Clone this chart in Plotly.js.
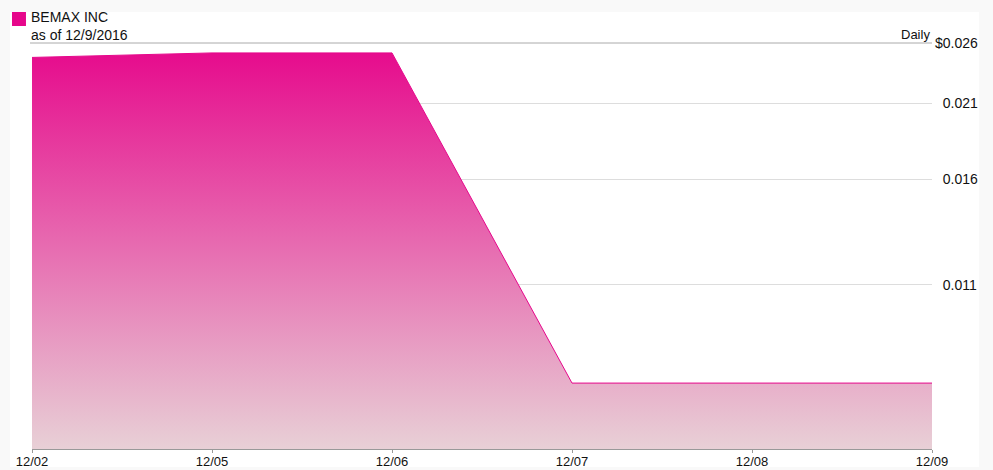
<!DOCTYPE html>
<html>
<head>
<meta charset="utf-8">
<script src="https://cdn.plot.ly/plotly-3.0.1.min.js"></script>
<style>
html,body{margin:0;padding:0;background:#f9f9f9;}
#chart{width:993px;height:470px;}
</style>
</head>
<body>
<div id="chart"></div>
<script>
var dates = ['12/02', '12/05', '12/06', '12/07', '12/08', '12/09'];
var prices = [0.0247, 0.0251, 0.0251, 0.00776, 0.00776, 0.00776];
var yTickVals = [0.011, 0.016, 0.021, 0.026];
var yTickText = ['\u00a0\u00a00.011', '\u00a0\u00a00.016', '\u00a0\u00a00.021', '$0.026'];
var seriesName = 'BEMAX INC';
var asOf = 'as of 12/9/2016';
var freq = 'Daily';
var yMin = 0.006139, yMax = 0.026;

var magenta = '#e6078b';
var pale = '#e8d0d6';
var font = 'Liberation Sans, Arial, sans-serif';

var trace = {
  x: dates, y: prices, type: 'scatter', mode: 'lines',
  line: {color: magenta, width: 1},
  fill: 'tozeroy',
  fillgradient: {type: 'vertical', colorscale: [[0, pale], [1, magenta]], start: yMin, stop: yMax},
  hoverinfo: 'none', showlegend: false
};

var layout = {
  width: 993, height: 470,
  margin: {l: 32, r: 61, t: 43, b: 21},
  paper_bgcolor: '#f9f9f9', plot_bgcolor: 'rgba(0,0,0,0)',
  font: {family: font, size: 13, color: '#111'},
  xaxis: {
    type: 'category', range: [0, 5], showgrid: false, zeroline: false,
    showline: true, linecolor: '#999', linewidth: 1,
    ticks: 'outside', ticklen: 3, tickcolor: '#999', ticklabelstandoff: -3,
    tickfont: {family: font, size: 13, color: '#111'}, fixedrange: true
  },
  yaxis: {
    type: 'log', side: 'right', range: [Math.log10(yMin), Math.log10(yMax)],
    tickmode: 'array', tickvals: yTickVals, ticktext: yTickText,
    showgrid: true, gridcolor: '#dddddd', gridwidth: 1, zeroline: false,
    showline: false, ticks: '', ticklabelstandoff: 2,
    tickfont: {family: font, size: 14, color: '#111'}, fixedrange: true
  },
  shapes: [
    {type: 'rect', xref: 'paper', yref: 'paper', x0: -0.0244, x1: 1.0522, y0: -0.0443, y1: 1.0764,
     fillcolor: '#ffffff', line: {width: 0}, layer: 'below'},
    {type: 'line', xref: 'paper', yref: 'paper', x0: -0.0022, x1: 1, y0: 1, y1: 1,
     line: {color: '#aaaaaa', width: 1}, layer: 'above'},
    {type: 'rect', xref: 'paper', yref: 'paper', x0: -0.0222, x1: -0.0067, y0: 1.0764, y1: 1.0419,
     fillcolor: magenta, line: {width: 0}}
  ],
  annotations: [
    {text: seriesName, xref: 'paper', yref: 'paper', x: -0.0022, y: 1.0431, xanchor: 'left', yanchor: 'bottom',
     borderpad: 0, showarrow: false, font: {family: font, size: 14, color: '#111'}},
    {text: asOf, xref: 'paper', yref: 'paper', x: -0.0022, y: 1.0431, xanchor: 'left', yanchor: 'top',
     borderpad: 0, showarrow: false, font: {family: font, size: 14, color: '#111'}},
    {text: freq, xref: 'paper', yref: 'paper', x: 1, y: 0.997, xanchor: 'right', yanchor: 'bottom',
     showarrow: false, font: {family: font, size: 13, color: '#111'}}
  ]
};

Plotly.newPlot('chart', [trace], layout, {displayModeBar: false, staticPlot: true});
</script>
</body>
</html>
